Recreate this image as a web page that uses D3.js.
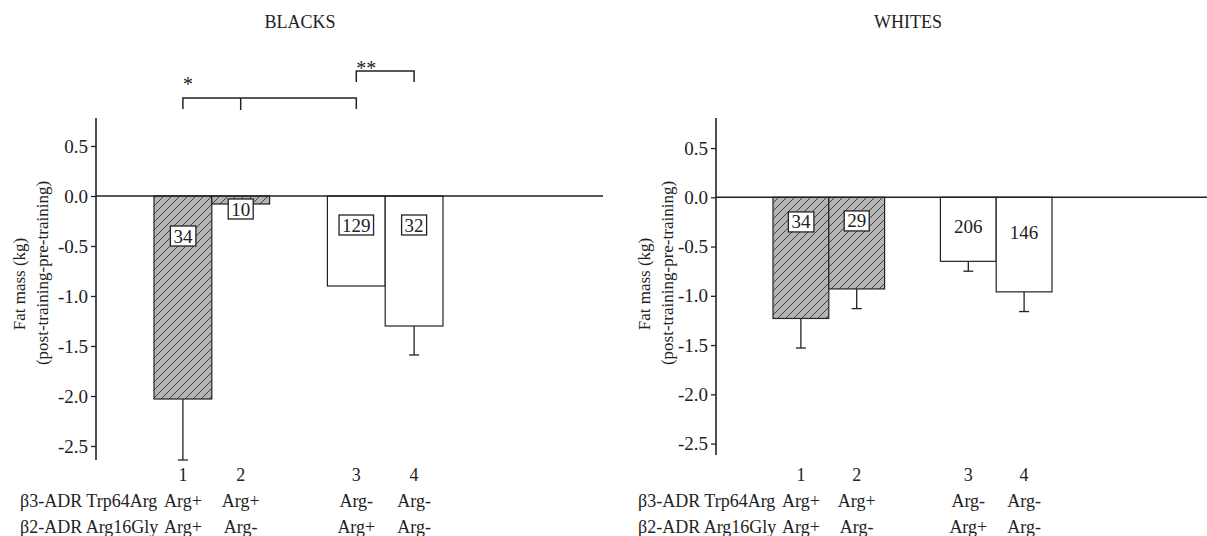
<!DOCTYPE html>
<html>
<head>
<meta charset="utf-8">
<script src="https://cdn.jsdelivr.net/npm/d3@7"></script>
<style>
  body { margin: 0; background: #fff; }
  svg text { font-family: "Liberation Serif", "DejaVu Serif", serif; fill: #222; }
</style>
</head>
<body>
<svg id="chart" width="1207" height="536"></svg>
<script>
const groups = ["1", "2", "", "3", "4"];
const genotypeRows = ["β3-ADR Trp64Arg", "β2-ADR Arg16Gly"];
const trp64Arg = ["Arg+", "Arg+", "", "Arg-", "Arg-"];
const arg16Gly = ["Arg+", "Arg-", "", "Arg+", "Arg-"];
const hatched = [true, true, false, false, false];
const yTicks = [0.5, 0.0, -0.5, -1.0, -1.5, -2.0, -2.5];

const blacksMean = [-2.03, -0.08, null, -0.90, -1.30];
const blacksErr = [0.61, null, null, null, 0.29];
const blacksN = ["34", "10", "", "129", "32"];
const blacksLabelAt = [-0.40, -0.13, null, -0.29, -0.29];

const whitesMean = [-1.23, -0.93, null, -0.65, -0.96];
const whitesErr = [0.30, 0.20, null, 0.10, 0.20];
const whitesN = ["34", "29", "", "206", "146"];
const whitesLabelAt = [-0.25, -0.24, null, -0.30, -0.36];
const whitesBoxed = [true, true, false, false, false];

const svg = d3.select("#chart");

const defs = svg.append("defs");
const pat = defs.append("pattern")
  .attr("id", "hatch")
  .attr("patternUnits", "userSpaceOnUse")
  .attr("width", 8)
  .attr("height", 8);
pat.append("rect").attr("width", 8).attr("height", 8).attr("fill", "#b4b4b4");
pat.append("path")
  .attr("d", "M-2,2 L2,-2 M0,8 L8,0 M6,10 L10,6")
  .attr("stroke", "#333")
  .attr("stroke-width", 0.9);

function drawPanel(opts) {
  const g = svg.append("g");
  const x = d3.scaleBand().domain(groups).range(opts.xRange).paddingInner(0);
  const y = d3.scaleLinear().domain(opts.yDomain).range(opts.yRange);

  // title
  g.append("text")
    .attr("x", opts.titleX).attr("y", 28)
    .attr("text-anchor", "middle")
    .attr("font-size", 18)
    .text(opts.title);

  // y axis
  const axis = g.append("g")
    .attr("transform", `translate(${opts.axisX},0)`)
    .call(d3.axisLeft(y).tickValues(yTicks).tickSize(5).tickPadding(3)
      .tickFormat(d => d.toFixed(1)));
  axis.select(".domain").attr("d", `M0,${opts.yRange[1]}V${opts.yRange[0]}`)
    .attr("stroke", "#222").attr("stroke-width", 1.6);
  axis.selectAll(".tick line").attr("stroke", "#222").attr("stroke-width", 1.3);
  axis.selectAll(".tick text").attr("font-size", 19).attr("font-family", "Liberation Serif").attr("fill", "#222");

  // y label
  g.append("text")
    .attr("transform", `translate(${opts.labelX[0]},284) rotate(-90)`)
    .attr("text-anchor", "middle")
    .attr("dominant-baseline", "central")
    .attr("font-size", 17)
    .text("Fat mass (kg)");
  g.append("text")
    .attr("transform", `translate(${opts.labelX[1]},273) rotate(-90)`)
    .attr("text-anchor", "middle")
    .attr("dominant-baseline", "central")
    .attr("font-size", 17)
    .text("(post-training-pre-training)");

  const idx = d3.range(groups.length).filter(i => opts.mean[i] !== null);

  // error bars
  const eb = g.append("g").attr("stroke", "#222").attr("stroke-width", 1.3);
  idx.filter(i => opts.err[i] !== null).forEach(i => {
    const cx = x(groups[i]) + x.bandwidth() / 2;
    const y0 = y(opts.mean[i]), y1 = y(opts.mean[i] - opts.err[i]);
    eb.append("line").attr("x1", cx).attr("x2", cx).attr("y1", y0).attr("y2", y1);
    eb.append("line").attr("x1", cx - 5).attr("x2", cx + 5).attr("y1", y1).attr("y2", y1);
  });

  // bars
  g.append("g").selectAll("rect")
    .data(idx)
    .join("rect")
    .attr("x", i => x(groups[i]))
    .attr("width", x.bandwidth())
    .attr("y", y(0))
    .attr("height", i => y(opts.mean[i]) - y(0))
    .attr("fill", i => hatched[i] ? "url(#hatch)" : "#fff")
    .attr("stroke", "#222")
    .attr("stroke-width", 1.2);

  // zero line
  g.append("line")
    .attr("x1", opts.axisX).attr("x2", opts.zeroEnd)
    .attr("y1", y(0)).attr("y2", y(0))
    .attr("stroke", "#222").attr("stroke-width", 1.5);

  // n labels
  idx.forEach(i => {
    const cx = x(groups[i]) + x.bandwidth() / 2;
    const cy = y(opts.labelAt[i]);
    const t = g.append("text")
      .attr("x", cx).attr("y", cy)
      .attr("text-anchor", "middle")
      .attr("dominant-baseline", "central")
      .attr("font-size", 19)
      .text(opts.n[i]);
    if (opts.boxed[i]) {
      const bb = t.node().getBBox();
      g.insert("rect", () => t.node())
        .attr("x", bb.x - 3).attr("y", cy - 10)
        .attr("width", bb.width + 6).attr("height", 20)
        .attr("fill", "#fff").attr("stroke", "#222").attr("stroke-width", 1.3);
    }
  });

  // category labels
  const rows = [groups, trp64Arg, arg16Gly];
  rows.forEach((row, r) => {
    g.append("g").selectAll("text")
      .data(idx)
      .join("text")
      .attr("x", i => x(groups[i]) + x.bandwidth() / 2)
      .attr("y", 481 + r * 26)
      .attr("text-anchor", "middle")
      .attr("font-size", 18)
      .text(i => row[i]);
  });
  genotypeRows.forEach((name, r) => {
    g.append("text")
      .attr("x", opts.rowX).attr("y", 507 + r * 26)
      .attr("font-size", 18)
      .text(name);
  });

  return { x, y, g };
}

const left = drawPanel({
  title: "BLACKS", titleX: 300,
  xRange: [154, 443], yDomain: [-2.64, 0.78], yRange: [460, 118],
  axisX: 96, zeroEnd: 603, labelX: [19, 42], rowX: 20,
  mean: blacksMean, err: blacksErr, n: blacksN, labelAt: blacksLabelAt,
  boxed: [true, true, false, true, true]
});

drawPanel({
  title: "WHITES", titleX: 908,
  xRange: [773, 1052], yDomain: [-2.616, 0.805], yRange: [455, 118],
  axisX: 716, zeroEnd: 1207, labelX: [644, 667], rowX: 638,
  mean: whitesMean, err: whitesErr, n: whitesN, labelAt: whitesLabelAt,
  boxed: whitesBoxed
});

// significance brackets (blacks)
const lx = g => left.x(g) + left.x.bandwidth() / 2;
const br = left.g.append("g").attr("fill", "none").attr("stroke", "#222").attr("stroke-width", 1.5);
br.append("path").attr("d", `M${lx("1")},109V98H${lx("3")}V109`);
br.append("path").attr("d", `M${lx("2")},98V110`);
br.append("path").attr("d", `M${lx("3")},82V71H${lx("4")}V82`);
left.g.append("text").attr("x", lx("1")).attr("y", 91)
  .attr("font-size", 20).attr("fill", "#777").text("*");
left.g.append("text").attr("x", lx("3")).attr("y", 75)
  .attr("font-size", 20).attr("fill", "#777").text("**");
</script>
</body>
</html>
